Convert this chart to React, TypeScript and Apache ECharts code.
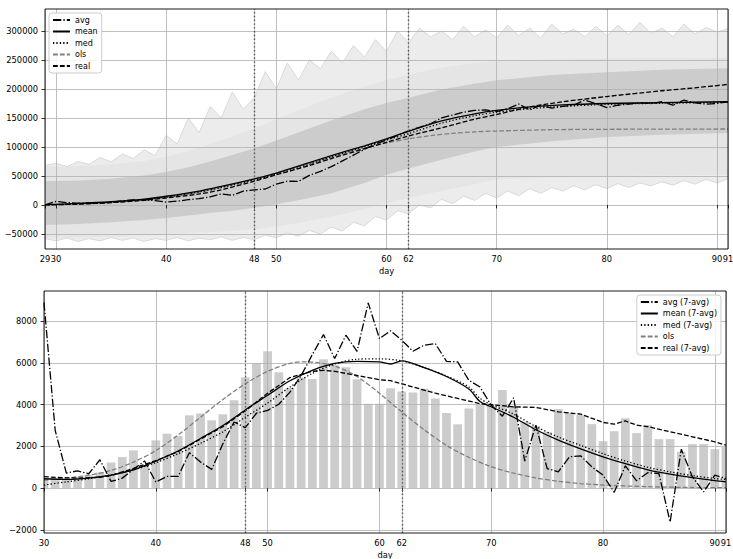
import React, { useEffect, useRef } from 'react';
import * as echarts from 'echarts';

// ---------- categories / ticks ----------
const topDays: string[] = Array.from({ length: 63 }, (_, i) => String(29 + i));
const bottomDays: string[] = Array.from({ length: 62 }, (_, i) => String(30 + i));
const topTickDays = ['29', '30', '40', '48', '50', '60', '62', '70', '80', '90', '91'];
const bottomTickDays = ['30', '40', '48', '50', '60', '62', '70', '80', '90', '91'];
const markerDays = ['48', '62'];
const topYTicks = [-50000, 0, 50000, 100000, 150000, 200000, 250000, 300000];
const bottomYTicks = [-2000, 0, 2000, 4000, 6000, 8000];

// ---------- top chart (cumulative) ----------
// per-day values, day 29..91
const avgTop = [0, 6000, 4000, 3000, 3500, 3000, 5000, 7000, 8500, 9000, 7500, 5000, 6500, 9000, 11000, 14000, 19000, 16500, 24000, 26000, 27500, 36000, 41000, 40500, 51000, 58000, 66000, 76000, 86000, 96000, 105000, 112000, 120000, 128000, 134000, 140000, 150000, 155000, 160000, 163000, 164000, 161000, 166000, 174000, 164000, 172000, 167000, 170000, 172000, 181000, 175000, 168000, 172000, 174000, 176000, 175000, 178000, 172000, 181000, 176000, 174000, 175000, 178000];
const spagUpper = [68000, 72000, 66000, 75000, 70000, 82000, 74000, 88000, 80000, 95000, 85000, 120000, 105000, 150000, 125000, 170000, 150000, 195000, 165000, 185000, 230000, 200000, 245000, 215000, 250000, 235000, 265000, 245000, 275000, 255000, 285000, 265000, 300000, 280000, 305000, 290000, 300000, 285000, 308000, 290000, 302000, 288000, 310000, 292000, 305000, 288000, 312000, 295000, 303000, 290000, 308000, 292000, 310000, 294000, 315000, 296000, 305000, 290000, 312000, 295000, 306000, 298000, 304000];
const spagLower = [-58000, -62000, -57000, -63000, -58000, -62000, -56000, -61000, -57000, -63000, -58000, -61000, -56000, -62000, -57000, -60000, -55000, -61000, -56000, -60000, -52000, -57000, -48000, -54000, -44000, -50000, -38000, -45000, -30000, -36000, -20000, -26000, -10000, -15000, 0, -5000, 10000, 2000, 15000, 8000, 20000, 12000, 24000, 16000, 28000, 20000, 30000, 24000, 33000, 26000, 35000, 28000, 37000, 30000, 38000, 33000, 40000, 34000, 42000, 36000, 44000, 38000, 45000];
// [day, value]
const meanTop = [[29, 500], [32, 2500], [35, 5500], [38, 10000], [40, 15000], [43, 24000], [45, 32000], [48, 45000], [50, 55000], [53, 73000], [55, 85000], [58, 102000], [60, 114000], [62, 127000], [65, 145000], [68, 157000], [70, 163000], [73, 169000], [76, 172500], [80, 175000], [85, 176500], [91, 178000]];
const medTop = [[29, 0], [32, 2000], [35, 4500], [38, 9000], [40, 13500], [43, 22500], [45, 30000], [48, 43000], [50, 53000], [53, 70000], [55, 83000], [58, 100000], [60, 112000], [62, 123000], [65, 141000], [68, 154000], [70, 160000], [73, 166000], [76, 170000], [80, 173500], [85, 175500], [91, 177000]];
const realTop = [[29, 0], [32, 1500], [35, 4000], [38, 8000], [40, 12000], [43, 19000], [45, 26000], [48, 41000], [50, 52000], [53, 68000], [55, 80000], [58, 97000], [60, 108000], [62, 119000], [65, 133000], [68, 148000], [70, 156000], [73, 169000], [76, 178000], [80, 187000], [85, 197000], [88, 202000], [91, 208000]];
const olsTop = [[29, 0], [32, 1500], [35, 4000], [38, 8500], [40, 13000], [43, 22000], [45, 30000], [48, 44000], [50, 55000], [53, 71000], [55, 82000], [58, 98000], [60, 107000], [62, 114000], [64, 119500], [66, 123500], [68, 126000], [70, 127500], [75, 129800], [80, 130500], [91, 131000]];
const outerUpper = [[29, 66000], [32, 67000], [35, 70000], [38, 76000], [40, 83000], [42, 93000], [44, 105000], [46, 118000], [48, 132000], [50, 148000], [52, 163000], [54, 178000], [56, 192000], [58, 204000], [60, 215000], [62, 225000], [65, 237000], [68, 245000], [70, 248000], [75, 251000], [80, 252500], [85, 253000], [91, 254000]];
const outerLower = [[29, -57000], [35, -55000], [40, -51000], [44, -47000], [48, -42000], [50, -37000], [52, -31000], [54, -24000], [56, -16000], [58, -7000], [60, 3000], [62, 12000], [65, 24000], [68, 36000], [70, 44000], [75, 48000], [80, 50000], [85, 51000], [91, 52000]];
const innerUpper = [[29, 41000], [32, 42000], [35, 45000], [38, 51000], [40, 57000], [42, 65000], [44, 75000], [46, 86000], [48, 98000], [50, 111000], [52, 125000], [55, 146000], [58, 165000], [60, 176000], [62, 185000], [65, 199000], [68, 209000], [70, 215000], [75, 224000], [80, 229000], [85, 233000], [91, 236000]];
const innerLower = [[29, -34500], [32, -33000], [35, -30000], [38, -26000], [40, -22500], [42, -18000], [44, -14000], [46, -10000], [48, -5000], [50, 1000], [52, 8000], [55, 20000], [58, 38000], [60, 52000], [62, 63000], [65, 78000], [68, 92000], [70, 100000], [75, 110000], [80, 117000], [85, 121000], [91, 124000]];

// ---------- bottom chart (daily) ----------
// per-day values, day 30..91
const dailyReal = [450, 380, 400, 550, 620, 750, 1230, 1490, 1810, 1100, 2290, 2610, 2500, 3490, 3580, 3250, 3540, 4210, 5310, 5970, 6560, 5550, 4800, 5300, 5230, 6180, 5890, 5800, 5220, 4050, 4050, 4790, 4630, 4590, 4770, 4300, 3600, 3060, 3820, 3990, 3950, 4700, 3900, 3180, 2970, 2700, 3790, 3610, 3500, 3070, 2250, 2730, 3350, 2640, 3020, 2350, 2350, 1740, 2110, 2110, 1870, 1980];
const avg7 = [8900, 2770, 720, 830, 690, 1360, 320, 480, 900, 1300, 290, 560, 560, 1700, 1250, 900, 2130, 3170, 2900, 3590, 3730, 4020, 4600, 5400, 6400, 7360, 6210, 7330, 6560, 8880, 7170, 7540, 7090, 6560, 6850, 6930, 6080, 6050, 5170, 4850, 3970, 3450, 4330, 1300, 3020, 940, 780, 1500, 1550, 1020, 620, -200, 1070, 350, 740, 700, -1620, 1860, 540, -180, 620, 460];
const mean7 = [[30, 450], [32, 420], [34, 480], [36, 620], [38, 880], [40, 1300], [42, 1780], [44, 2380], [46, 3000], [48, 3750], [50, 4450], [52, 5150], [54, 5650], [56, 5980], [58, 6080], [60, 6050], [61, 5950], [62, 6100], [64, 5780], [66, 5350], [68, 4750], [69, 4150], [70, 3900], [72, 3400], [74, 2800], [76, 2300], [78, 1880], [80, 1500], [82, 1170], [84, 880], [86, 670], [88, 500], [90, 360], [91, 300]];
const med7 = [[30, 150], [32, 300], [34, 450], [36, 640], [38, 880], [40, 1220], [42, 1650], [44, 2150], [46, 2700], [48, 3400], [50, 4080], [52, 4850], [54, 5500], [56, 5950], [58, 6180], [60, 6200], [62, 6100], [64, 5780], [66, 5380], [68, 4850], [69, 4300], [70, 4000], [72, 3550], [74, 2950], [76, 2450], [78, 2050], [80, 1650], [82, 1300], [84, 1000], [86, 780], [88, 600], [90, 460], [91, 420]];
const ols7 = [[30, 380], [32, 480], [34, 620], [36, 850], [38, 1250], [40, 1800], [42, 2550], [44, 3400], [46, 4250], [48, 5000], [50, 5600], [52, 5980], [53, 6050], [54, 6040], [56, 5850], [58, 5350], [60, 4550], [62, 3650], [64, 2800], [66, 2050], [68, 1480], [70, 1030], [72, 720], [74, 490], [76, 330], [78, 220], [80, 150], [84, 70], [88, 30], [91, 20]];
const real7 = [[30, 550], [31, 520], [33, 480], [35, 520], [36, 600], [38, 950], [40, 1320], [42, 1750], [44, 2350], [46, 2950], [48, 3700], [50, 4550], [52, 5300], [54, 5600], [55, 5650], [56, 5600], [58, 5400], [60, 5200], [61, 5150], [63, 4850], [65, 4550], [67, 4300], [69, 4050], [71, 3950], [72, 3900], [74, 3870], [76, 3660], [78, 3550], [80, 3150], [81, 3070], [82, 3220], [83, 3020], [84, 2950], [86, 2700], [88, 2460], [90, 2220], [91, 2060]];

const topLegend = ['avg', 'mean', 'med', 'ols', 'real'];
const bottomLegend = ['avg (7-avg)', 'mean (7-avg)', 'med (7-avg)', 'ols', 'real (7-avg)'];

const FONT = 'DejaVu Sans';
const DASHED = [4.8, 2.1];
const DASHDOT = [8.3, 2.1, 1.3, 2.1];
const DOTTED = [1.3, 2.1];
const GRID_C = '#b0b0b0';

function lineSeries(name: string, data: any[], xi: number, color: string, type: any, smooth: number | boolean) {
  return {
    name,
    type: 'line',
    xAxisIndex: xi,
    yAxisIndex: xi,
    data,
    symbol: 'none',
    showSymbol: false,
    smooth,
    z: 4,
    silent: true,
    lineStyle: { color, width: 1.3, type },
    itemStyle: { color },
    emphasis: { disabled: true },
  };
}

function polySeries(upper: number[][], lower: number[][], base: number, xi: number, fill: string) {
  return {
    type: 'custom',
    xAxisIndex: xi,
    yAxisIndex: xi,
    z: 2,
    silent: true,
    data: [[0, 0]],
    renderItem: (_p: any, api: any) => {
      const up = upper.map(([d, v]) => api.coord([d - base, v]));
      const lo = lower.map(([d, v]) => api.coord([d - base, v])).reverse();
      return { type: 'polygon', shape: { points: up.concat(lo) }, style: { fill } };
    },
  };
}

const pairs = (arr: number[][]) => arr.map(([d, v]) => [String(d), v]);

export default function App() {
  const ref = useRef<HTMLDivElement>(null);
  useEffect(() => {
    const chart = echarts.init(ref.current!, null, { renderer: 'svg' });
    const labelStyle = { fontSize: 8.3, color: '#000', fontFamily: FONT };
    const xAxisBase = (gi: number, data: string[], ticks: string[]) => {
      const f = (_i: number, v: string) => ticks.indexOf(String(v)) >= 0;
      return {
        type: 'category',
        gridIndex: gi,
        data,
        boundaryGap: false,
        z: 3,
        axisLine: { show: false },
        axisTick: { show: true, interval: f, length: 3.5, lineStyle: { color: '#000', width: 0.8 } },
        axisLabel: { ...labelStyle, interval: f, margin: 6, hideOverlap: false },
        splitLine: { show: true, interval: f, lineStyle: { color: GRID_C, width: 0.8 } },
        name: 'day',
        nameLocation: 'middle',
        nameGap: 18,
        nameTextStyle: { fontSize: 8.3, color: '#000', fontFamily: FONT },
      };
    };
    const yAxisBase = (gi: number, min: number, max: number, split: number, ticks: number[]) => ({
      type: 'value',
      gridIndex: gi,
      min,
      max,
      splitNumber: split,
      z: 3,
      axisLine: { show: false },
      axisTick: { show: true, length: 3.5, lineStyle: { color: '#000', width: 0.8 }, customValues: ticks },
      axisLabel: {
        ...labelStyle,
        margin: 7,
        customValues: ticks,
        formatter: (v: number) => String(v).replace('-', '\u2212'),
      },
      splitLine: { show: true, lineStyle: { color: GRID_C, width: 0.8 } },
    });
    const legendBase = {
      orient: 'vertical',
      itemWidth: 17,
      itemHeight: 8,
      itemGap: 3.5,
      padding: [3, 4, 3, 3],
      backgroundColor: 'rgba(255,255,255,0.85)',
      borderColor: '#cccccc',
      borderWidth: 1,
      borderRadius: 3,
      selectedMode: false,
      z: 10,
      itemStyle: { opacity: 0 },
      textStyle: { fontSize: 8, color: '#000', fontFamily: FONT, lineHeight: 8 },
    };
    const markLine = {
      silent: true,
      symbol: ['none', 'none'],
      label: { show: false },
      lineStyle: { color: '#555', width: 1.4, type: [1.4, 2.4] },
      data: markerDays.map((d) => ({ xAxis: d })),
    };

    const topAvgData = avgTop.map((v, i) => [topDays[i], v]);
    const spagUpData = spagUpper.map((v, i) => [topDays[i], v]);
    const spagLoData = spagLower.map((v, i) => [topDays[i], v]);
    const spagUpPairs = spagUpper.map((v, i) => [29 + i, v]);
    const spagLoPairs = spagLower.map((v, i) => [29 + i, v]);

    const barSeries = {
      type: 'custom',
      xAxisIndex: 1,
      yAxisIndex: 1,
      z: 2,
      silent: true,
      clip: true,
      data: dailyReal.map((v, i) => [i, v]),
      encode: { x: 0, y: 1 },
      renderItem: (params: any, api: any) => {
        const i = api.value(0);
        const v = api.value(1);
        const top = api.coord([i, v]);
        const base = api.coord([i, 0]);
        const w = api.size([1, 0])[0] * 0.78;
        const cs = params.coordSys;
        const shape = echarts.graphic.clipRectByRect(
          { x: top[0] - w / 2, y: Math.min(top[1], base[1]), width: w, height: Math.abs(base[1] - top[1]) },
          { x: cs.x, y: cs.y, width: cs.width, height: cs.height }
        );
        return shape ? { type: 'rect', shape, style: { fill: '#cccccc' } } : null;
      },
    };

    const option: any = {
      animation: false,
      backgroundColor: '#fff',
      textStyle: { fontFamily: FONT },
      grid: [
        { left: 45, right: 5, top: 9, height: 240, show: true, borderColor: '#000', borderWidth: 0.9, backgroundColor: 'transparent', z: 10, containLabel: false, outerBoundsMode: 'none' },
        { left: 44, right: 7, top: 291, height: 242, show: true, borderColor: '#000', borderWidth: 0.9, backgroundColor: 'transparent', z: 10, containLabel: false, outerBoundsMode: 'none' },
      ],
      xAxis: [xAxisBase(0, topDays, topTickDays), xAxisBase(1, bottomDays, bottomTickDays)],
      yAxis: [
        yAxisBase(0, -76000, 338000, 8, topYTicks),
        yAxisBase(1, -2150, 9450, 6, bottomYTicks),
      ],
      legend: [
        { ...legendBase, left: 49, top: 13, data: topLegend },
        { ...legendBase, right: 12, top: 295, data: bottomLegend },
      ],
      series: [
        // top: simulations envelope
        polySeries(spagUpPairs, spagLoPairs, 29, 0, '#ececec'),
        { type: 'line', xAxisIndex: 0, yAxisIndex: 0, data: spagUpData, symbol: 'none', z: 2, silent: true, lineStyle: { color: '#d9d9d9', width: 1 } },
        { type: 'line', xAxisIndex: 0, yAxisIndex: 0, data: spagLoData, symbol: 'none', z: 2, silent: true, lineStyle: { color: '#d9d9d9', width: 1 } },
        polySeries(outerUpper, outerLower, 29, 0, '#e5e5e5'),
        polySeries(innerUpper, innerLower, 29, 0, '#cccccc'),
        lineSeries('ols', pairs(olsTop), 0, '#808080', DASHED, 0.3),
        lineSeries('real', pairs(realTop), 0, '#000', DASHED, 0.3),
        lineSeries('med', pairs(medTop), 0, '#000', DOTTED, 0.3),
        { ...lineSeries('mean', pairs(meanTop), 0, '#000', 'solid', 0.3), markLine },
        lineSeries('avg', topAvgData, 0, '#000', DASHDOT, false),
        // bottom
        barSeries,
        lineSeries('ols', pairs(ols7), 1, '#808080', DASHED, 0.3),
        lineSeries('real (7-avg)', pairs(real7), 1, '#000', DASHED, false),
        lineSeries('med (7-avg)', pairs(med7), 1, '#000', DOTTED, 0.3),
        { ...lineSeries('mean (7-avg)', pairs(mean7), 1, '#000', 'solid', 0.3), markLine },
        lineSeries('avg (7-avg)', avg7.map((v, i) => [bottomDays[i], v]), 1, '#000', DASHDOT, false),
      ],
    };
    chart.setOption(option);
    return () => chart.dispose();
  }, []);
  return <div ref={ref} style={{ position: 'fixed', left: 0, top: 0, width: 733, height: 559 }} />;
}
